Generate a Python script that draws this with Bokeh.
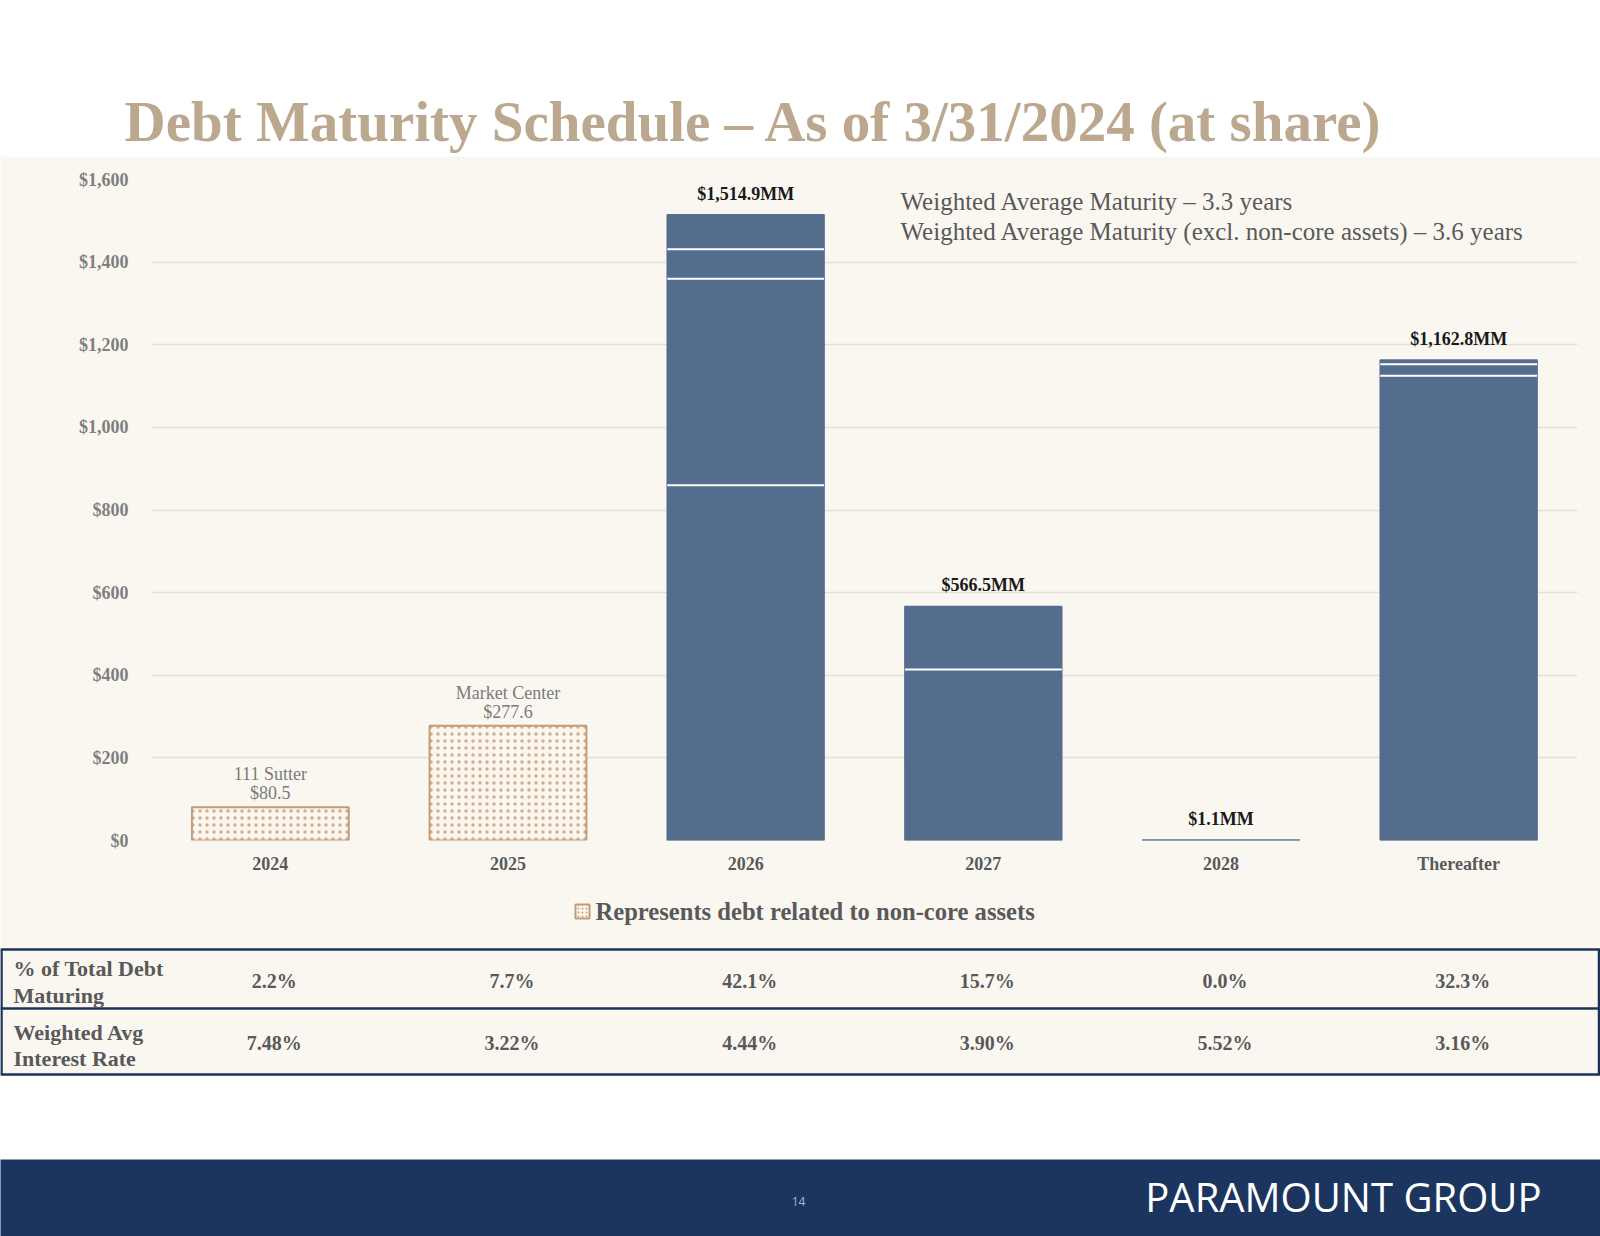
from bokeh.plotting import figure
from bokeh.layouts import column
from bokeh.models import Range1d, FactorRange, SingleIntervalTicker, NumeralTickFormatter
from bokeh.embed import file_html
from bokeh.resources import INLINE
from bokeh.core.properties import value

# ---------------- data ----------------
categories = ["2024", "2025", "2026", "2027", "2028", "Thereafter"]
# stacked loan segments, $MM (bottom to top)
seg1 = [80.5, 277.6, 860.0, 414.0, 1.1, 1125.0]
seg2 = [0.0, 0.0, 500.0, 152.5, 0.0, 27.5]
seg3 = [0.0, 0.0, 71.4, 0.0, 0.0, 10.3]
seg4 = [0.0, 0.0, 83.5, 0.0, 0.0, 0.0]
non_core = [True, True, False, False, False, False]
non_core_names = ["111 Sutter", "Market Center", "", "", "", ""]
pct_total = ["2.2%", "7.7%", "42.1%", "15.7%", "0.0%", "32.3%"]
wavg_rate = ["7.48%", "3.22%", "4.44%", "3.90%", "5.52%", "3.16%"]
title_text = "Debt Maturity Schedule \u2013 As of 3/31/2024 (at share)"
wam_lines = ["Weighted Average Maturity \u2013 3.3 years",
             "Weighted Average Maturity (excl. non-core assets) \u2013 3.6 years"]
legend_text = "Represents debt related to non-core assets"
row_labels = [["% of Total Debt", "Maturing"], ["Weighted Avg", "Interest Rate"]]
brand = "PARAMOUNT GROUP"
page_no = "14"

# ---------------- layout / styles ----------------
W = 1600
FL, FR = 151, 1577                 # chart frame left / right (px)
UNIT = (FR - FL) / len(categories)
SERIF = "Liberation Serif"
BEIGE = "#FAF7F1"
BLUE = "#556D8D"
TAN = "#C29C76"
HATCH = "#C9A27C"
GRAY = "#595959"
NAVY = "#1C355E"


def panel(h, bg):
    p = figure(width=W, height=h, x_range=Range1d(0, W), y_range=Range1d(h, 0),
               x_axis_type=None, y_axis_type=None, min_border=0, frame_align=False,
               output_backend="svg", toolbar_location=None,
               background_fill_color=bg, border_fill_color=bg, outline_line_color=None)
    p.grid.visible = False
    return p


def txt(p, x, y, text, size, color=GRAY, style="normal", align="left", baseline="middle", font=SERIF):
    p.text(x=[x] if not isinstance(x, list) else x, y=[y] if not isinstance(y, list) else y,
           text=[text] if not isinstance(text, list) else text,
           text_font=value(font), text_font_size=size, text_font_style=style,
           text_color=color, text_align=align, text_baseline=baseline)


# ---------------- title (page y 0..156) ----------------
pA = panel(156, "white")
txt(pA, 124, 121, title_text, "57px", color="#BCA88F", style="bold")

# ---------------- chart (page y 156..890) ----------------
pB = figure(width=W, height=734, x_range=FactorRange(*categories), y_range=Range1d(0, 1600),
            output_backend="svg", toolbar_location=None, frame_align=False,
            min_border_left=FL, min_border_right=W - FR, min_border_top=23, min_border_bottom=50,
            background_fill_color=BEIGE, border_fill_color=BEIGE, outline_line_color=None)
pB.xgrid.visible = False
pB.ygrid.grid_line_color = "#E3E0DA"
pB.ygrid.grid_line_width = 1.5
pB.yaxis.ticker = SingleIntervalTicker(interval=200, num_minor_ticks=0)
pB.yaxis.formatter = NumeralTickFormatter(format="$0,0")
for ax in (pB.xaxis[0], pB.yaxis[0]):
    ax.axis_line_color = None
    ax.major_tick_line_color = None
    ax.minor_tick_line_color = None
    ax.major_label_text_font = SERIF
    ax.major_label_text_font_style = "bold"
pB.yaxis.major_label_text_font_size = "18px"
pB.yaxis.major_label_text_color = "#7F7F7F"
pB.yaxis.major_label_standoff = 17
pB.xaxis.major_label_text_font_size = "18px"
pB.xaxis.major_label_text_color = GRAY
pB.xaxis.major_label_standoff = 7

core_idx = [i for i, nc in enumerate(non_core) if not nc]
nc_idx = [i for i, nc in enumerate(non_core) if nc]

# non-core hatched bars
pB.vbar(x=[categories[i] for i in nc_idx], top=[seg1[i] for i in nc_idx], bottom=0, width=0.66,
        fill_color="#FBF7F0", line_color=TAN, line_width=2,
        hatch_pattern="dot", hatch_color=HATCH, hatch_alpha=0.85, hatch_scale=7, hatch_weight=0.7)

# core stacked bars
bottoms = [0.0] * len(categories)
sep_x0, sep_x1, sep_y = [], [], []
for k, seg in enumerate((seg1, seg2, seg3, seg4)):
    xs, b, t = [], [], []
    for i in core_idx:
        if seg[i] > 0:
            xs.append(categories[i]); b.append(bottoms[i]); t.append(bottoms[i] + seg[i])
            if k > 0:
                sep_x0.append(i + 0.5 - 0.33); sep_x1.append(i + 0.5 + 0.33); sep_y.append(bottoms[i])
    for i in range(len(categories)):
        bottoms[i] += seg[i]
    pB.vbar(x=xs, bottom=b, top=t, width=0.66, fill_color=BLUE, line_color=BLUE, line_width=1.5)
pB.segment(x0=sep_x0, y0=sep_y, x1=sep_x1, y1=sep_y, line_color="white", line_width=2)

totals = bottoms
pB.text(x=[categories[i] for i in core_idx], y=[totals[i] for i in core_idx],
        text=["${:,.1f}MM".format(totals[i]) for i in core_idx],
        text_font=value(SERIF), text_font_style="bold", text_font_size="18px", text_color="#1A1A1A",
        text_align="center", text_baseline="middle", y_offset=-21)
pB.text(x=[categories[i] for i in nc_idx], y=[totals[i] for i in nc_idx],
        text=["${:,.1f}".format(totals[i]) for i in nc_idx],
        text_font=value(SERIF), text_font_size="18px", text_color="#7A7A7A",
        text_align="center", text_baseline="middle", y_offset=-14)
pB.text(x=[categories[i] for i in nc_idx], y=[totals[i] for i in nc_idx],
        text=[non_core_names[i] for i in nc_idx],
        text_font=value(SERIF), text_font_size="18px", text_color="#7A7A7A",
        text_align="center", text_baseline="middle", y_offset=-33)
# weighted average maturity notes (positioned in frame pixels -> data)
wam_x = (900 - FL) / UNIT
pB.text(x=[wam_x, wam_x], y=[(840 - 201) / (661 / 1600), (840 - 231) / (661 / 1600)], text=wam_lines,
        text_font=value(SERIF), text_font_size="25px", text_color=GRAY, text_baseline="middle")

# ---------------- legend + table (page y 890..1159) ----------------
pC = panel(269, BEIGE)
pC.quad(left=-2, right=W + 2, top=186, bottom=272, fill_color="white", line_color=None)
pC.rect(x=[582], y=[21], width=14, height=14, fill_color="#FBF7F0", line_color=TAN, line_width=2,
        hatch_pattern="dot", hatch_color=HATCH, hatch_scale=4, hatch_weight=0.9)
txt(pC, 595, 21, legend_text, "24.6px", style="bold")
pC.segment(x0=[0, 0, 0], y0=[59, 118, 184], x1=[W, W, W], y1=[59, 118, 184],
           line_color="#1C3358", line_width=2.5)
pC.segment(x0=[1, W - 1.5], y0=[59, 59], x1=[1, W - 1.5], y1=[184, 184],
           line_color="#1C3358", line_width=2.5)
for (l1, l2), (y1, y2) in zip(row_labels, ((78, 105), (142, 168))):
    txt(pC, 13, y1, l1, "22px", style="bold")
    txt(pC, 13, y2, l2, "22px", style="bold")
col_x = [FL + (i + 0.5) * UNIT + 4 for i in range(len(categories))]
txt(pC, col_x, [90] * len(categories), pct_total, "20px", style="bold", align="center")
txt(pC, col_x, [152] * len(categories), wavg_rate, "20px", style="bold", align="center")

# ---------------- footer (page y 1159..1236) ----------------
pD = panel(77, NAVY)
txt(pD, 1541, 37, brand, "40px", color="white", align="right", font="Open Sans")
txt(pD, 798, 42, page_no, "12px", color="#A9B6C8", align="center", font="Open Sans")

layout = column(pA, pB, pC, pD, spacing=0)
open("out.html", "w").write(file_html(layout, INLINE))
